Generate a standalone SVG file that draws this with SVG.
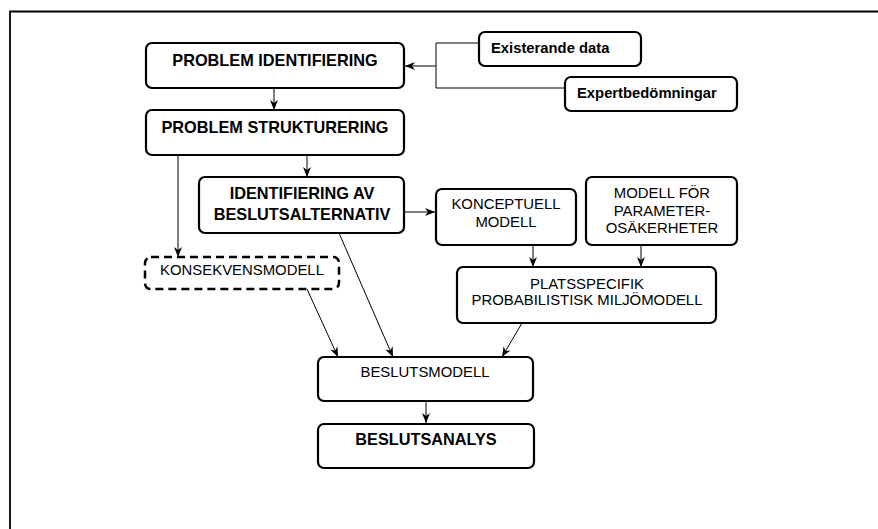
<svg xmlns="http://www.w3.org/2000/svg" width="878" height="529" viewBox="0 0 878 529">
<defs>
<marker id="arr" viewBox="0 0 10 10" refX="10" refY="5" markerWidth="10" markerHeight="10" markerUnits="userSpaceOnUse" orient="auto">
<path d="M0,1 L10,5 L0,9 L3,5 Z" fill="#000"/>
</marker>
<style>
.box{fill:#fff;stroke:#000;stroke-width:2.2}
.dash{fill:#fff;stroke:#000;stroke-width:2.5;stroke-dasharray:8 5}
.c{fill:none;stroke:#000;stroke-width:1}
.ca{fill:none;stroke:#000;stroke-width:1;marker-end:url(#arr)}
.b{font-family:"Liberation Sans",Arial,sans-serif;font-weight:bold;font-size:16.3px;text-anchor:middle;fill:#000}
.bs{font-family:"Liberation Sans",Arial,sans-serif;font-weight:bold;font-size:14.8px;fill:#000}
.n{font-family:"Liberation Sans",Arial,sans-serif;font-size:14.9px;text-anchor:middle;fill:#000}
</style>
</defs>
<rect width="878" height="529" fill="#fff"/>
<path d="M10,529 L10,11.5 L878,11.5" fill="none" stroke="#000" stroke-width="1.8"/>

<g id="connectors">
<path class="ca" d="M274,88 L274,110"/>
<path class="c" d="M479,43 L436,43 L436,88 L565,88"/>
<path class="ca" d="M436,66 L405,66"/>
<path class="ca" d="M307,155 L307,177"/>
<path class="ca" d="M178,155 L178,257"/>
<path class="ca" d="M404,212 L435,212"/>
<path class="ca" d="M533,245 L533,267"/>
<path class="ca" d="M641,245 L641,267"/>
<path class="ca" d="M307,289 L338,357"/>
<path class="ca" d="M339,233 L393,357"/>
<path class="ca" d="M522,323 L502,357"/>
<path class="ca" d="M426,401 L426,423"/>
</g>

<g id="problem-identifiering">
<rect class="box" x="146" y="43" width="258" height="45" rx="6"/>
<text class="b" x="275" y="66">PROBLEM IDENTIFIERING</text>
</g>
<g id="existerande-data">
<rect class="box" x="479" y="32" width="162" height="34" rx="6"/>
<text class="bs" x="491" y="53">Existerande data</text>
</g>
<g id="expertbedomningar">
<rect class="box" x="565" y="77" width="172" height="34" rx="6"/>
<text class="bs" x="577" y="98">Expertbedömningar</text>
</g>
<g id="problem-strukturering">
<rect class="box" x="146" y="110" width="258" height="45" rx="6"/>
<text class="b" x="275" y="133">PROBLEM STRUKTURERING</text>
</g>
<g id="identifiering-av">
<rect class="box" x="199" y="177" width="205" height="56" rx="6"/>
<text class="b" x="302" y="199">IDENTIFIERING AV</text>
<text class="b" x="302" y="220">BESLUTSALTERNATIV</text>
</g>
<g id="konceptuell-modell">
<rect class="box" x="436" y="189" width="140" height="56" rx="6"/>
<text class="n" x="506" y="209">KONCEPTUELL</text>
<text class="n" x="506" y="227">MODELL</text>
</g>
<g id="modell-for">
<rect class="box" x="586" y="177" width="151" height="68" rx="6"/>
<text class="n" x="662" y="198">MODELL FÖR</text>
<text class="n" x="662" y="215.5">PARAMETER-</text>
<text class="n" x="662" y="233">OSÄKERHETER</text>
</g>
<g id="konsekvensmodell">
<rect class="dash" x="145" y="257" width="194" height="32" rx="6"/>
<text class="n" x="242" y="275">KONSEKVENSMODELL</text>
</g>
<g id="platsspecifik">
<rect class="box" x="457" y="267" width="259" height="56" rx="6"/>
<text class="n" x="587" y="289">PLATSSPECIFIK</text>
<text class="n" x="587" y="305">PROBABILISTISK MILJÖMODELL</text>
</g>
<g id="beslutsmodell">
<rect class="box" x="318" y="357" width="215" height="44" rx="6"/>
<text class="n" x="425" y="377">BESLUTSMODELL</text>
</g>
<g id="beslutsanalys">
<rect class="box" x="318" y="424" width="216" height="44" rx="6"/>
<text class="b" x="426" y="445">BESLUTSANALYS</text>
</g>
</svg>
